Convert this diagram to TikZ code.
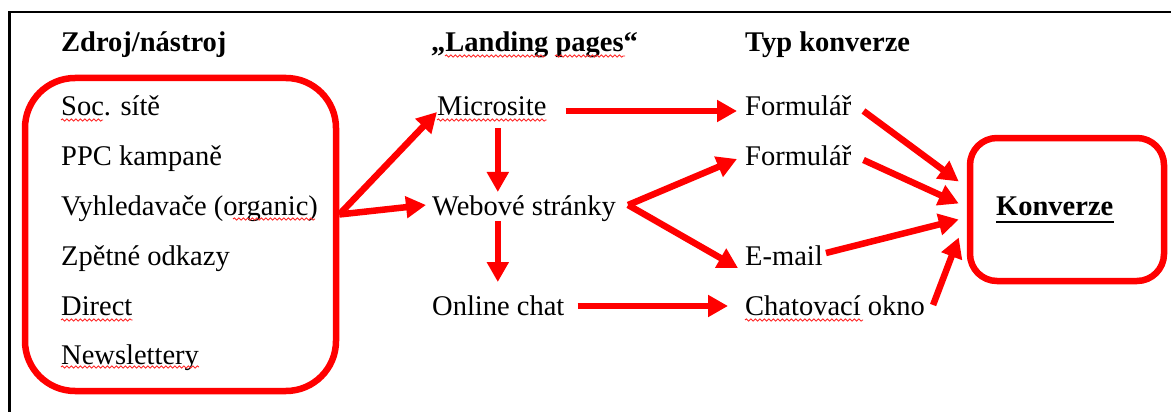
\documentclass[tikz,border=0pt]{standalone}
\usepackage{fontspec}
\setmainfont{Liberation Serif}
\usepackage{tikz}
\usetikzlibrary{arrows.meta,decorations.pathmorphing}
\tikzset{
  >={Triangle[length=20pt,width=21pt]},
}
\tikzstyle{every node}=[font=\fontsize{28.5}{34}\selectfont,inner sep=0pt]
\tikzstyle{polozka}=[anchor=base west]
\tikzstyle{nadpis}=[anchor=base west,font=\fontsize{28.5}{34}\selectfont\bfseries]
\tikzstyle{zaobleny}=[draw=red,line width=6.5pt]
\tikzstyle{sipka}=[red,line width=6.5pt,->]
\tikzstyle{chyba}=[red!85,line width=0.9pt,decorate,decoration={snake,amplitude=1.1pt,segment length=4.5pt}]
\tikzstyle{ramec}=[line width=2.5pt]

\begin{document}
\begin{tikzpicture}[x=1pt,y=-1pt]
        \useasboundingbox (0,0) rectangle (1171,412);
        \draw[ramec] (9.5,412) -- (9.5,12) -- (1171,12);
        % nadpisy sloupcu
        \node[nadpis] (hlZdroj) at (61,52) {Zdroj/nástroj};
        \node[nadpis] (hlLanding) at (431,52) {„Landing pages“};
        \node[nadpis] (hlTyp) at (745,52) {Typ konverze};
        % zdroje
        \node[zaobleny,rounded corners=50pt,minimum width=311pt,minimum height=313pt] (zdroje) at (180.5,234.5) {};
        \node[polozka] (soc) at (61,115) {Soc. sítě};
        \node[polozka] (ppc) at (61,165) {PPC kampaně};
        \node[polozka] (vyhled) at (61,215) {Vyhledavače (organic)};
        \node[polozka] (odkazy) at (61,265) {Zpětné odkazy};
        \node[polozka] (direct) at (61,315) {Direct};
        \node[polozka] (newsl) at (61,364) {Newslettery};
        % landing pages
        \node[polozka] (micro) at (437,115) {Microsite};
        \node[polozka] (web) at (432,215) {Webové stránky};
        \node[polozka] (chat) at (432,315) {Online chat};
        % typ konverze
        \node[polozka] (form1) at (745,115) {Formulář};
        \node[polozka] (form2) at (745,165) {Formulář};
        \node[polozka] (email) at (745,265) {E-mail};
        \node[polozka] (okno) at (745,315) {Chatovací okno};
        % konverze
        \node[zaobleny,rounded corners=27pt,minimum width=194pt,minimum height=143pt] (konvBox) at (1067,209.5) {};
        \node[nadpis] (konv) at (996,215) {Konverze};
        \draw[line width=2.5pt] ([yshift=-7pt]konv.base west) -- ([yshift=-7pt]konv.base east);
        % sipky
        \draw[sipka] ([yshift=20pt]zdroje.east) -- ([yshift=3pt]micro.base west);
        \draw[sipka] ([yshift=20pt]zdroje.east) -- ([xshift=-6pt,yshift=10pt]web.base west);
        \draw[sipka] ([xshift=6pt,yshift=-13pt]micro.base) -- ([xshift=6pt,yshift=3pt]micro.base |- web.north);
        \draw[sipka] ([xshift=6pt]micro.base |- web.south) -- ([xshift=6pt,yshift=13pt]micro.base |- chat.north);
        \draw[sipka] ([xshift=19pt,yshift=4pt]micro.base east) -- ([xshift=-8pt,yshift=4pt]form1.base west);
        \draw[sipka] ([xshift=12pt,yshift=10pt]web.base east) -- ([xshift=-8pt,yshift=6pt]form2.base west);
        \draw[sipka] ([xshift=12pt,yshift=10pt]web.base east) -- ([xshift=-7pt,yshift=-3pt]email.base west);
        \draw[sipka] ([xshift=13pt,yshift=9pt]chat.base east) -- ([xshift=-17pt,yshift=9pt]okno.base west);
        \draw[sipka] ([xshift=12pt,yshift=4pt]form1.base east) -- ([xshift=-8pt,yshift=28pt]konvBox.west);
        \draw[sipka] ([xshift=12pt,yshift=5pt]form2.base east) -- ([xshift=-8pt,yshift=6pt]konvBox.west);
        \draw[sipka] ([xshift=3pt,yshift=12pt]email.base east) -- ([xshift=-8pt,yshift=-10pt]konvBox.west);
        \draw[sipka] ([xshift=8pt,yshift=10pt]okno.base east) -- ([xshift=-8pt,yshift=-28pt]konvBox.west);
        % podtrzeni z kontroly pravopisu
        \draw[chyba] ([xshift=14pt,yshift=-4pt]hlLanding.base west) -- ++(100,0);
        \draw[chyba] ([xshift=124pt,yshift=-4pt]hlLanding.base west) -- ++(70,0);
        \draw[chyba] ([yshift=-5pt]soc.base west) -- ++(42,0);
        \draw[chyba] ([xshift=172pt,yshift=-4pt]vyhled.base west) -- ++(82,0);
        \draw[chyba] ([yshift=-5pt]direct.base west) -- ([yshift=-5pt]direct.base east);
        \draw[chyba] ([yshift=-3pt]newsl.base west) -- ([yshift=-3pt]newsl.base east);
        \draw[chyba] ([yshift=-5pt]micro.base west) -- ([yshift=-5pt]micro.base east);
        \draw[chyba] ([yshift=-5pt]okno.base west) -- ++(118,0);
\end{tikzpicture}
\end{document}
